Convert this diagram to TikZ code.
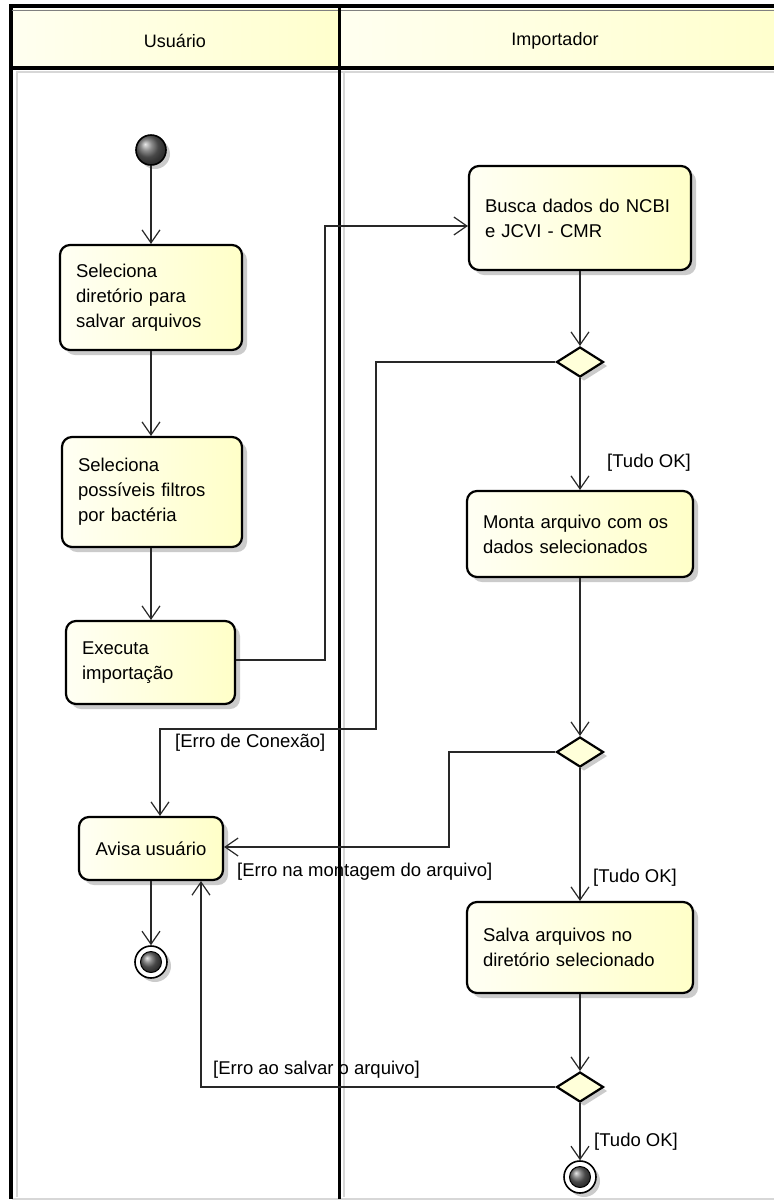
\documentclass[tikz,border=0pt]{standalone}
\usepackage{fontspec}
\setmainfont{Liberation Sans}
\usetikzlibrary{arrows.meta,shapes.geometric,shadows}
\pgfdeclarelayer{bottom}
\pgfdeclarelayer{background}
\pgfsetlayers{bottom,background,main}
\definecolor{fillL}{RGB}{255,255,244}
\definecolor{fillR}{RGB}{255,255,200}
\definecolor{hdrL}{RGB}{255,255,240}
\definecolor{hdrR}{RGB}{255,255,205}
\definecolor{linegray}{RGB}{40,40,40}
\definecolor{shadegray}{RGB}{215,215,215}
\definecolor{connshadow}{RGB}{222,222,222}
\tikzset{
  actbox/.style={draw=black, line width=2.2pt, rounded corners=10pt,
    left color=fillL, right color=fillR,
    drop shadow={shadow xshift=5pt, shadow yshift=-5pt, fill=black!45, opacity=.45},
    font=\fontsize{18.5}{25}\selectfont, align=left, inner ysep=0pt},
  decision/.style={diamond, draw=black, line width=2.2pt, fill=fillR!70!white,
    minimum width=47pt, minimum height=30pt, shape aspect=1.57, inner sep=0pt,
    drop shadow={shadow xshift=4pt, shadow yshift=-4pt, fill=black!45, opacity=.45}},
  startnode/.style={circle, draw=black, line width=1.6pt, minimum size=30pt, inner sep=0pt,
    ball color=gray!80!black, drop shadow={shadow xshift=4pt, shadow yshift=-4pt, fill=black!45, opacity=.45}},
  endouter/.style={circle, draw=black, line width=1.6pt, minimum size=32pt, inner sep=0pt, fill=white,
    drop shadow={shadow xshift=4pt, shadow yshift=-4pt, fill=black!45, opacity=.45}},
  endinner/.style={circle, draw=black, line width=1pt, minimum size=21pt, inner sep=0pt, ball color=gray!80!black},
  flow/.style={draw=linegray, line width=1.3pt, -{Straight Barb[length=13pt,width=18pt,line width=1.2pt]}},
  flowshadow/.style={draw=connshadow, line width=1.6pt, shift={(4pt,-4pt)}},
  guard/.style={font=\fontsize{18.5}{22}\selectfont, inner sep=0pt},
  lanetitle/.style={font=\fontsize{18}{22}\selectfont, inner sep=0pt},
}
\begin{document}
\begin{tikzpicture}[x=1pt,y=-1pt]
\useasboundingbox (0,0) rectangle (774,1200);
\begin{pgfonlayer}{bottom}
\fill[white] (0,0) rectangle (774,1200);
\end{pgfonlayer}
% header
\path[left color=hdrL, right color=hdrR] (12,9) rectangle (339,67);
\path[left color=hdrL, right color=hdrR] (340,9) rectangle (780,67);
\draw[shadegray, line width=1.5pt] (16,72) -- (780,72);
\draw[shadegray, line width=1.5pt] (17,72) -- (17,1197);
\draw[shadegray, line width=1.5pt] (344,72) -- (344,1197);
\draw[shadegray, line width=1.5pt] (12,1199) -- (780,1199);
\draw[black, line width=3.2pt] (11,1199) -- (11,6) -- (780,6);
\draw[gray, line width=1pt] (12,10) -- (780,10);
\draw[black, line width=3.2pt] (11,68) -- (780,68);
\draw[black, line width=3.2pt] (339.5,6) -- (339.5,1199);
\node[lanetitle] (h1) at (175,41) {Usuário};
\node[lanetitle] (h2) at (555,41) {Importador};

% nodes - left lane
\node[startnode] (start) at (151,150) {};
\node[actbox, text width=150pt, inner xsep=16pt, minimum height=105pt] (dir) at (151,297.5)
  {Seleciona\\diretório para\\salvar arquivos};
\node[actbox, text width=148pt, inner xsep=16pt, minimum height=110pt] (filt) at (152,492)
  {Seleciona\\possíveis filtros\\por bactéria};
\node[actbox, text width=137pt, inner xsep=16pt, minimum height=83pt] (exec) at (150.5,662.5)
  {Executa\\importação};
\node[actbox, align=center, minimum width=144pt, minimum height=63pt, inner xsep=6pt] (avisa) at (151,848.5)
  {Avisa usuário};
\node[endouter] (endL) at (151,962) {};
\node[endinner] (endLi) at (151,962) {};

% nodes - right lane
\node[actbox, text width=190pt, inner xsep=16pt, minimum height=104pt] (busca) at (580,218)
  {Busca dados do NCBI\\e JCVI - CMR};
\node[decision] (d1) at (580,362) {};
\node[actbox, text width=194pt, inner xsep=16pt, minimum height=86pt] (monta) at (580,534)
  {Monta arquivo com os\\dados selecionados};
\node[decision] (d2) at (580,752) {};
\node[actbox, text width=194pt, inner xsep=16pt, minimum height=91pt] (salva) at (580,947.5)
  {Salva arquivos no\\diretório selecionado};
\node[decision] (d3) at (580,1087) {};
\node[endouter] (endR) at (580,1177) {};
\node[endinner] (endRi) at (580,1177) {};

% bend points
\coordinate (k1) at (325,660);
\coordinate (k2) at (325,226);
\coordinate (c1) at (376,362);
\coordinate (c2) at (376,729);
\coordinate (c3) at (160,729);
\coordinate (m1) at (449,752);
\coordinate (m2) at (449,847);
\coordinate (s1) at (201,1087);

% connector shadows
\begin{pgfonlayer}{background}
\draw[flowshadow] (start) -- (dir);
\draw[flowshadow] (dir) -- (filt.north -| dir.south);
\draw[flowshadow] (filt.south -| dir.south) -- (exec.north -| dir.south);
\draw[flowshadow] (exec.east |- k1) -- (k1) -- (k2) -- (k2 -| busca.west);
\draw[flowshadow] (busca) -- (d1);
\draw[flowshadow] (d1.west) -- (c1) -- (c2) -- (c3) -- (c3 |- avisa.north);
\draw[flowshadow] (d1) -- (monta);
\draw[flowshadow] (monta) -- (d2);
\draw[flowshadow] (d2.west) -- (m1) -- (m2) -- (m2 -| avisa.east);
\draw[flowshadow] (d2) -- (salva);
\draw[flowshadow] (salva) -- (d3);
\draw[flowshadow] (d3.west) -- (s1) -- (s1 |- avisa.south);
\draw[flowshadow] (d3) -- (endR);
\draw[flowshadow] (avisa) -- (endL);
\end{pgfonlayer}

% connectors
\draw[flow] (start) -- (dir);
\draw[flow] (dir) -- (filt.north -| dir.south);
\draw[flow] (filt.south -| dir.south) -- (exec.north -| dir.south);
\draw[flow] (exec.east |- k1) -- (k1) -- (k2) -- (k2 -| busca.west);
\draw[flow] (busca) -- (d1);
\draw[flow] (d1.west) -- (c1) -- (c2) -- (c3) -- (c3 |- avisa.north);
\draw[flow] (d1) -- (monta);
\draw[flow] (monta) -- (d2);
\draw[flow] (d2.west) -- (m1) -- (m2) -- (m2 -| avisa.east);
\draw[flow] (d2) -- (salva);
\draw[flow] (salva) -- (d3);
\draw[flow] (d3.west) -- (s1) -- (s1 |- avisa.south);
\draw[flow] (d3) -- (endR);
\draw[flow] (avisa) -- (endL);

% guards
\node[guard, anchor=west] (g1) at (607,463) {[Tudo OK]};
\node[guard, anchor=west] (g2) at (175,743) {[Erro de Conexão]};
\node[guard, anchor=west] (g3) at (237,872) {[Erro na montagem do arquivo]};
\node[guard, anchor=west] (g4) at (593,878) {[Tudo OK]};
\node[guard, anchor=west] (g5) at (213,1070) {[Erro ao salvar o arquivo]};
\node[guard, anchor=west] (g6) at (594,1142) {[Tudo OK]};
\end{tikzpicture}
\end{document}
